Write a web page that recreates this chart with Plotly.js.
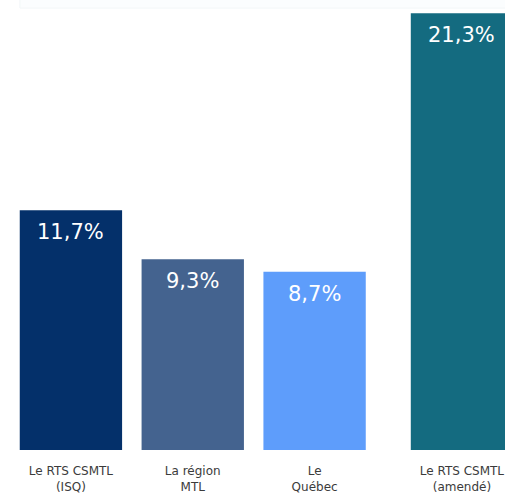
<!DOCTYPE html>
<html>
<head>
<meta charset="utf-8">
<script src="https://cdn.plot.ly/plotly-3.0.1.min.js"></script>
<style>html,body{margin:0;padding:0;background:#fff;overflow:hidden}#chart{width:505px;height:493px}</style>
</head>
<body>
<div id="chart"></div>
<script>
// Data
const categoriesMain = ["Le RTS CSMTL<br>(ISQ)", "La région<br>MTL", "Le<br>Québec"];
const valuesMain = [11.7, 9.3, 8.7];
const labelsMain = ["11,7%", "9,3%", "8,7%"];
const categoriesAmended = ["Le RTS CSMTL<br>(amendé)"];
const valuesAmended = [21.3];
const labelsAmended = ["21,3%"];

const colorsMain = ["#04306a", "#44638f", "#5e9dfb"];
const colorAmended = "#146b80";

const barWidth = 0.84;

const traces = [
  {type: "bar", x: categoriesMain, y: valuesMain, marker: {color: colorsMain, line: {width: 0}},
   width: barWidth, xaxis: "x", yaxis: "y", hoverinfo: "none", showlegend: false},
  {type: "bar", x: categoriesAmended, y: valuesAmended, marker: {color: colorAmended, line: {width: 0}},
   width: barWidth, xaxis: "x2", yaxis: "y", hoverinfo: "none", showlegend: false}
];

const valueFont = {family: "DejaVu Sans", size: 21, color: "#ffffff"};
const annotations = [];
categoriesMain.forEach((c, i) => annotations.push({
  x: c, y: valuesMain[i], xref: "x", yref: "y", text: labelsMain[i], showarrow: false,
  yanchor: "top", yshift: -8, font: valueFont
}));
categoriesAmended.forEach((c, i) => annotations.push({
  x: c, y: valuesAmended[i], xref: "x2", yref: "y", text: labelsAmended[i], showarrow: false,
  yanchor: "top", yshift: -8, font: valueFont
}));

const tickFont = {family: "DejaVu Sans", size: 12, color: "#3b3b3b"};

const layout = {
  width: 505, height: 493,
  margin: {l: 10, r: 0, t: 0, b: 43, pad: 0},
  paper_bgcolor: "#ffffff", plot_bgcolor: "#ffffff",
  xaxis: {domain: [0, 0.7384], type: "category", range: [-0.5, 2.5], showgrid: false, zeroline: false,
          showline: false, ticks: "", tickfont: tickFont, ticklabelstandoff: 12, fixedrange: true},
  xaxis2: {domain: [0.79, 1], type: "category", range: [-0.5, 0.354], anchor: "y", showgrid: false, zeroline: false,
           showline: false, ticks: "", tickfont: tickFont, ticklabelstandoff: 12, fixedrange: true},
  yaxis: {range: [0, 21.95], visible: false, showgrid: false, zeroline: false, fixedrange: true},
  annotations: annotations,
  shapes: [
    {type: "rect", xref: "paper", yref: "paper", x0: 0.02, x1: 1.02, y0: 0.982, y1: 1.05,
     fillcolor: "#fbfdfe", line: {color: "#f2f6f8", width: 1}, layer: "below"}
  ]
};

Plotly.newPlot("chart", traces, layout, {displayModeBar: false, staticPlot: true});
</script>
</body>
</html>
